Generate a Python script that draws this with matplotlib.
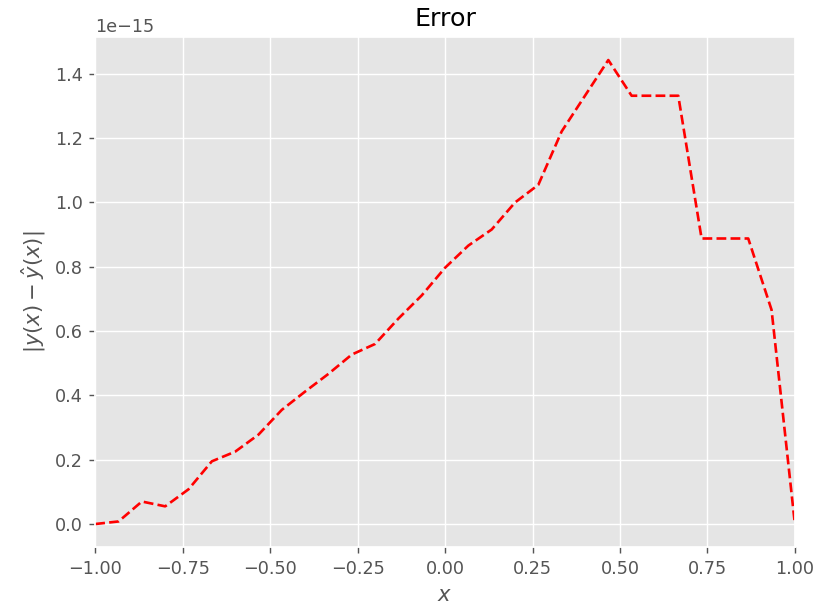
import numpy as np
import matplotlib
matplotlib.use("Agg")
import matplotlib.pyplot as plt

plt.style.use("ggplot")

# 31 equally spaced sample points on [-1, 1]
x_vals = np.linspace(-1.0, 1.0, 31)
# absolute error, in units of 1e-15
err_vals = [0.000, 0.008, 0.070, 0.055, 0.108, 0.195, 0.225, 0.278, 0.355, 0.412,
            0.467, 0.527, 0.560, 0.639, 0.711, 0.797, 0.866, 0.916, 1.000, 1.055,
            1.221, 1.332, 1.443, 1.332, 1.332, 1.332, 0.888, 0.888, 0.888, 0.666,
            0.000]

err = np.array(err_vals) * 1e-15

dpi = 127
fig = plt.figure(figsize=(828 / dpi, 604 / dpi), dpi=dpi)
ax = fig.add_subplot(111)
ax.plot(x_vals, err, "r--")
ax.set_xlim(-1, 1)
ax.set_title("Error", color="black")
ax.set_xlabel(r"$x$")
ax.set_ylabel(r"$|y(x) - \hat{y}(x)|$")
fig.subplots_adjust(left=0.115, right=0.960, top=0.939, bottom=0.094)
fig.savefig("out.png", dpi=dpi)
